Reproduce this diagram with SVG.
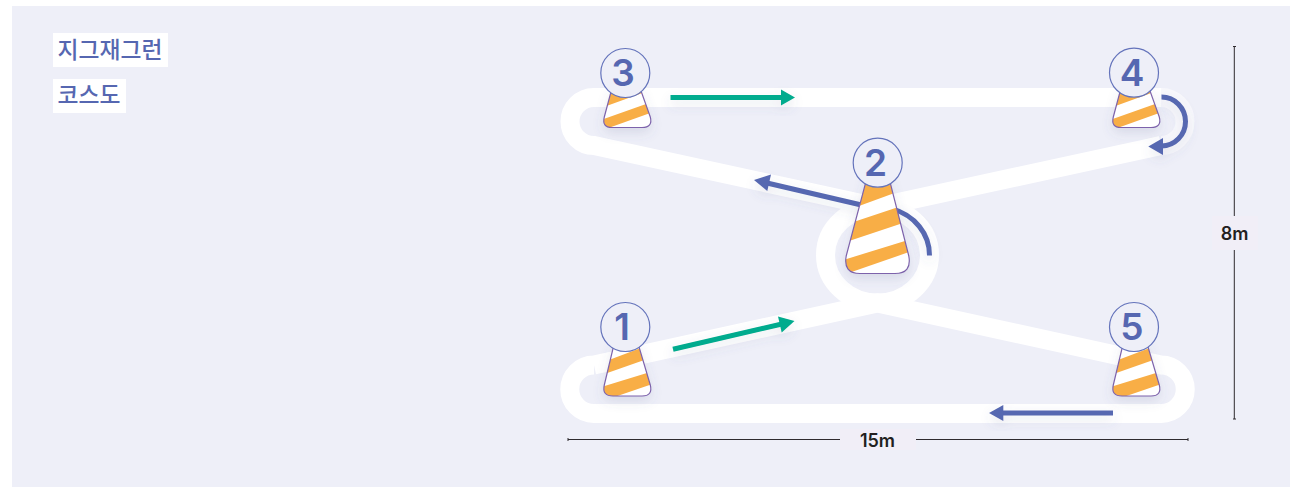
<svg xmlns="http://www.w3.org/2000/svg" width="1290" height="487" viewBox="0 0 1290 487">
<style>
.track{fill:none;stroke:#fff;stroke-width:19}
.num{font:600 37px Inter,"Noto Sans",sans-serif;fill:#5667b1;text-anchor:middle}
.ko{font:500 22.800px "Noto Sans CJK KR",sans-serif;fill:#5667b1}
.dim{stroke:#2e2a2e;stroke-width:1;fill:none}
.dimt{font:600 18px Inter,"Noto Sans",sans-serif;fill:#231f20;text-anchor:middle}
.ring{fill:#eeeff8;stroke:#6473bb;stroke-width:1.2}
.outline{fill:none;stroke:#7d62ab;stroke-width:1.2}
.or{fill:#f8ae46}
.g{fill:none;stroke:#00ab8e;stroke-width:5}
.b{fill:none;stroke:#5667b1;stroke-width:5}
</style>
<defs>
<filter id="sh" x="-40%" y="-40%" width="180%" height="200%"><feDropShadow dx="0" dy="5" stdDeviation="6" flood-color="#5a5f8c" flood-opacity="0.16"/></filter>
<path id="sc" d="M612 88H640L650.300 117Q653 127.500 642 127.500H612Q601.700 127.500 604.300 117Z"/>
<path id="tc" d="M615 340H637L650.300 385Q653 396 642 396H613Q601.700 396 604.300 385Z"/>
<path id="bc" d="M869 170H887L908.800 256Q912 273.500 895 273.500H860Q843 273.500 846.200 256Z"/>
<clipPath id="csc"><use href="#sc"/></clipPath>
<clipPath id="ctc"><use href="#tc"/></clipPath>
<clipPath id="cbc"><use href="#bc"/></clipPath>
<g id="short-cone">
<use href="#sc" fill="#fff" filter="url(#sh)"/>
<g clip-path="url(#csc)"><path class="or" d="M600 108.300L650 90.300V80H600Z"/><path class="or" d="M600 120.300L655 100.800V111.300L600 131Z"/></g>
<use href="#sc" class="outline"/>
</g>
<g id="tall-cone">
<use href="#tc" fill="#fff" filter="url(#sh)"/>
<g clip-path="url(#ctc)"><path class="or" d="M600 363.300L650 344.600L650 358L600 375.500Z"/><path class="or" d="M600 387.500L655 370.500V383L600 402Z"/></g>
<use href="#tc" class="outline"/>
</g>
</defs>
<rect width="1290" height="487" fill="#fff"/>
<rect x="12" y="6" width="1278" height="481" fill="#eeeff8"/>
<g id="title">
<rect x="53" y="33" width="115" height="34" fill="#fff"/>
<rect x="53" y="79" width="73" height="34" fill="#fff"/>
<text class="ko" x="57.500" y="58">지그재그런</text>
<text class="ko" x="57.500" y="103">코스도</text>
</g>
<g id="connectors">
<path class="track" d="M1161 97.500H594A24 24 0 0 0 594 145.500L877.500 207L1161 145.500"/>
<path class="track" d="M1161 97.500A24 24 0 0 1 1161 145.500" style="stroke:#f8f8fc"/>
<path class="track" d="M594 365A24 24 0 0 0 594 413.500H1161A24 24 0 0 0 1161 365L877.500 303L594 365"/>
<ellipse class="track" cx="877.500" cy="255" rx="52" ry="48"/>
<g filter="url(#sh)">
<path class="g" d="M670.500 97.500H783"/><path fill="#00ab8e" d="M795 97.500L781 89.500V105.500Z"/>
</g>
<g filter="url(#sh)">
<path class="g" d="M673 349.200L783 323.800"/><path fill="#00ab8e" d="M794.500 321L778 316.500L781.700 332.500Z"/>
</g>
<g filter="url(#sh)">
<path class="b" d="M870 207L767 183"/><path fill="#5667b1" d="M754 180L771 174.500L767.300 191Z"/>
<path class="b" d="M892 208.900A52 48 0 0 1 929.500 255.500"/>
</g>
<g filter="url(#sh)">
<path class="b" d="M1161.500 97A24 24.500 0 0 1 1161.500 146"/><path fill="#5667b1" d="M1148.300 146.500L1163 138V155Z"/>
</g>
<g filter="url(#sh)">
<path class="b" d="M1113 413H1001"/><path fill="#5667b1" d="M989 413L1003.300 405V421Z"/>
</g>
</g>
<g id="node-1"><use href="#tall-cone"/><circle class="ring" cx="625.300" cy="327" r="24.500"/><text class="num" x="622" y="340">1</text></g>
<g id="node-2">
<use href="#bc" fill="#fff" filter="url(#sh)"/>
<g clip-path="url(#cbc)"><path class="or" d="M840 213L900 191V165H840Z"/><path class="or" d="M840 226.500L915 201.500V219L840 244Z"/><path class="or" d="M840 261L915 238V250L840 276Z"/></g>
<use href="#bc" class="outline"/>
<circle class="ring" cx="877.700" cy="162.700" r="24.500"/><text class="num" x="875.500" y="176">2</text></g>
<g id="node-3"><use href="#short-cone"/><circle class="ring" cx="625.300" cy="73" r="24.500"/><text class="num" x="623" y="86">3</text></g>
<g id="node-4"><use href="#short-cone" x="509"/><circle class="ring" cx="1134" cy="72.700" r="24.500"/><text class="num" x="1132" y="86">4</text></g>
<g id="node-5"><use href="#tall-cone" x="509"/><circle class="ring" cx="1134" cy="327" r="24.500"/><text class="num" x="1132" y="340">5</text></g>
<g id="dimensions">
<rect x="840" y="429" width="76" height="21" fill="#f1eef7"/>
<rect x="1212" y="216" width="46" height="34" fill="#f1eef7"/>
<path class="dim" d="M568 439.500H840M916 439.500H1188M568 438V441M1188 438V441"/>
<path class="dim" d="M1234.300 46V216M1234.300 250V419M1233 46.500H1236M1233 419H1236"/>
<text class="dimt" x="877.500" y="446.500">15m</text>
<text class="dimt" x="1234.500" y="239.500">8m</text>
</g>
</svg>
